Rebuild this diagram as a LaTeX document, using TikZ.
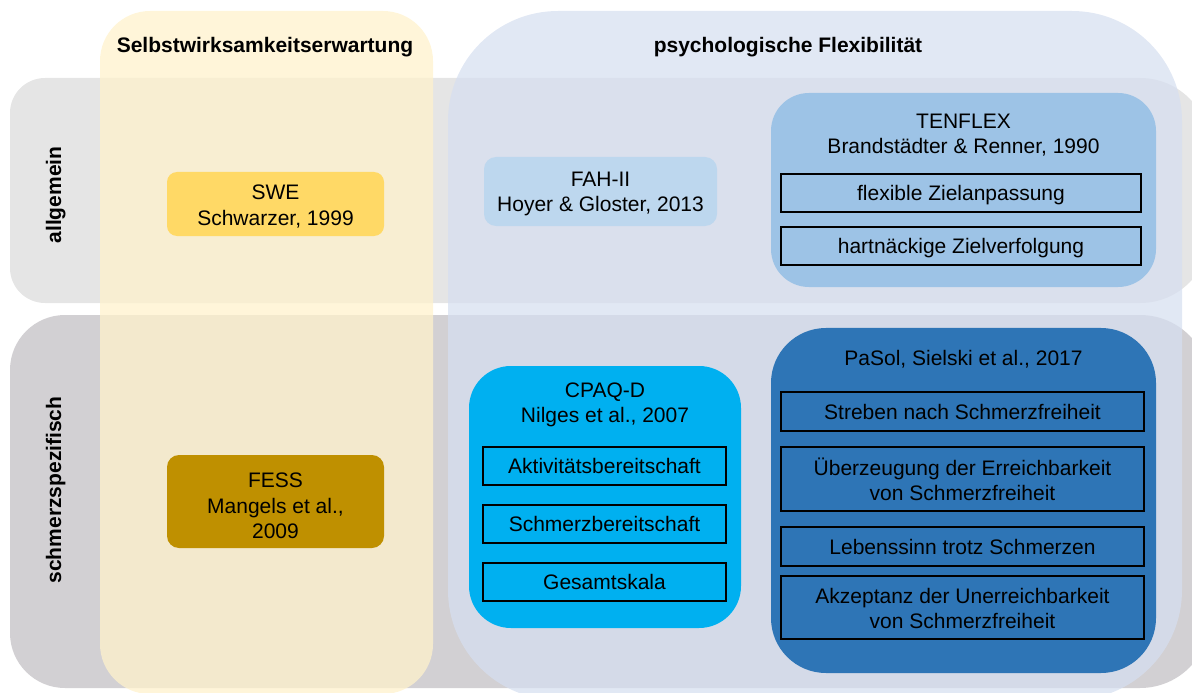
\documentclass[tikz,border=0pt]{standalone}
\usepackage{fontspec}
\setmainfont{Liberation Sans}
\newcommand\myfs{\fontsize{21bp}{25bp}\selectfont}
\definecolor{rowA}{HTML}{E5E5E5}
\definecolor{rowB}{HTML}{D2D0D3}
\definecolor{colY}{HTML}{FFF2CC}
\definecolor{colB}{HTML}{D6DFF0}
\definecolor{sweC}{HTML}{FFD966}
\definecolor{fessC}{HTML}{BF9000}
\definecolor{fahC}{HTML}{BDD7EE}
\definecolor{tenC}{HTML}{9DC3E6}
\definecolor{cpaqC}{HTML}{00B0F0}
\definecolor{pasolC}{HTML}{2E75B6}
\begin{document}
\begin{tikzpicture}[x=1bp,y=-1bp,
  every node/.style={inner sep=0pt, outer sep=0pt},
  txt/.style={anchor=base, font=\myfs},
  ttl/.style={anchor=base, font=\myfs\bfseries},
  panel/.style={draw=none, rectangle},
  itembox/.style={draw=black, line width=2bp, rectangle, font=\myfs, text height=15bp, text depth=0pt}]
\useasboundingbox (0,0) rectangle (1192,693);
% rows
\fill[rowA] (10,190) [rounded corners=35bp] -- (10,78) -- (700,78) [rounded corners=70bp] -- (1210,78) -- (1210,303) -- (700,303) [rounded corners=35bp] -- (10,303) -- cycle;
\fill[rowB] (10,500) [rounded corners=55bp] -- (10,315) -- (700,315) [rounded corners=70bp] -- (1210,315) -- (1210,688) -- (700,688) [rounded corners=55bp] -- (10,688) -- cycle;
% columns
\fill[colY, opacity=0.75, rounded corners=50bp] (100,11) rectangle (433,694);
\fill[colB, opacity=0.73, rounded corners=110bp] (448,11) rectangle (1182,700);
% titles
\node[ttl] (tSWE) at (265,53) {Selbstwirksamkeitserwartung};
\node[ttl] (tPF) at (788,53) {psychologische Flexibilität};
\node[ttl, rotate=90] (rA) at (61,195) {allgemein};
\node[ttl, rotate=90] (rB) at (61,490) {schmerzspezifisch};
% SWE
\node[panel, fill=sweC, rounded corners=10bp, minimum width=217bp, minimum height=64bp] (swe) at (275.5,204) {};
\node[txt] (swe1) at (275.5,200) {SWE};
\node[txt] (swe2) at (275.5,226) {Schwarzer, 1999};
% FESS
\node[panel, fill=fessC, rounded corners=12bp, minimum width=217bp, minimum height=93bp] (fess) at (275.5,501.5) {};
\node[txt] (fess1) at (275.5,487) {FESS};
\node[txt] (fess2) at (275.5,513) {Mangels et al.,};
\node[txt] (fess3) at (275.5,538) {2009};
% FAH-II
\node[panel, fill=fahC, rounded corners=12bp, minimum width=233bp, minimum height=69bp] (fah) at (600.5,191.5) {};
\node[txt] (fah1) at (600.5,187) {FAH-II};
\node[txt] (fah2) at (600.5,212) {Hoyer \& Gloster, 2013};
% TENFLEX
\node[panel, fill=tenC, rounded corners=38bp, minimum width=385bp, minimum height=194bp] (ten) at (963.5,190) {};
\node[txt] (ten1) at (963.5,129) {TENFLEX};
\node[txt] (ten2) at (963.5,154) {Brandstädter \& Renner, 1990};
\node[itembox, minimum width=360bp, minimum height=38bp] (tA) at (961,193) {flexible Zielanpassung};
\node[itembox, minimum width=360bp, minimum height=38bp] (tB) at (961,246) {hartnäckige Zielverfolgung};
% CPAQ-D
\node[panel, fill=cpaqC, rounded corners=42bp, minimum width=272bp, minimum height=262bp] (cpaq) at (605,497) {};
\node[txt] (cpaq1) at (605,397) {CPAQ-D};
\node[txt] (cpaq2) at (605,422) {Nilges et al., 2007};
\node[itembox, minimum width=243bp, minimum height=38bp] (cA) at (604.5,466) {Aktivitätsbereitschaft};
\node[itembox, minimum width=243bp, minimum height=38bp] (cB) at (604.5,524) {Schmerzbereitschaft};
\node[itembox, minimum width=243bp, minimum height=38bp] (cC) at (604.5,582) {Gesamtskala};
% PaSol
\node[panel, fill=pasolC, rounded corners=55bp, minimum width=385bp, minimum height=345bp] (pasol) at (963.5,500.5) {};
\node[txt] (pasol1) at (963.5,365) {PaSol, Sielski et al., 2017};
\node[itembox, minimum width=363bp, minimum height=39bp] (pA) at (962.5,411.5) {Streben nach Schmerzfreiheit};
\node[itembox, minimum width=363bp, minimum height=64bp] (pB) at (962.5,479) {};
\node[txt] (pB1) at (962.5,475) {Überzeugung der Erreichbarkeit};
\node[txt] (pB2) at (962.5,500) {von Schmerzfreiheit};
\node[itembox, minimum width=363bp, minimum height=39bp] (pC) at (962.5,546.5) {Lebenssinn trotz Schmerzen};
\node[itembox, minimum width=363bp, minimum height=63bp] (pD) at (962.5,607.5) {};
\node[txt] (pD1) at (962.5,603) {Akzeptanz der Unerreichbarkeit};
\node[txt] (pD2) at (962.5,628) {von Schmerzfreiheit};
\end{tikzpicture}
\end{document}
